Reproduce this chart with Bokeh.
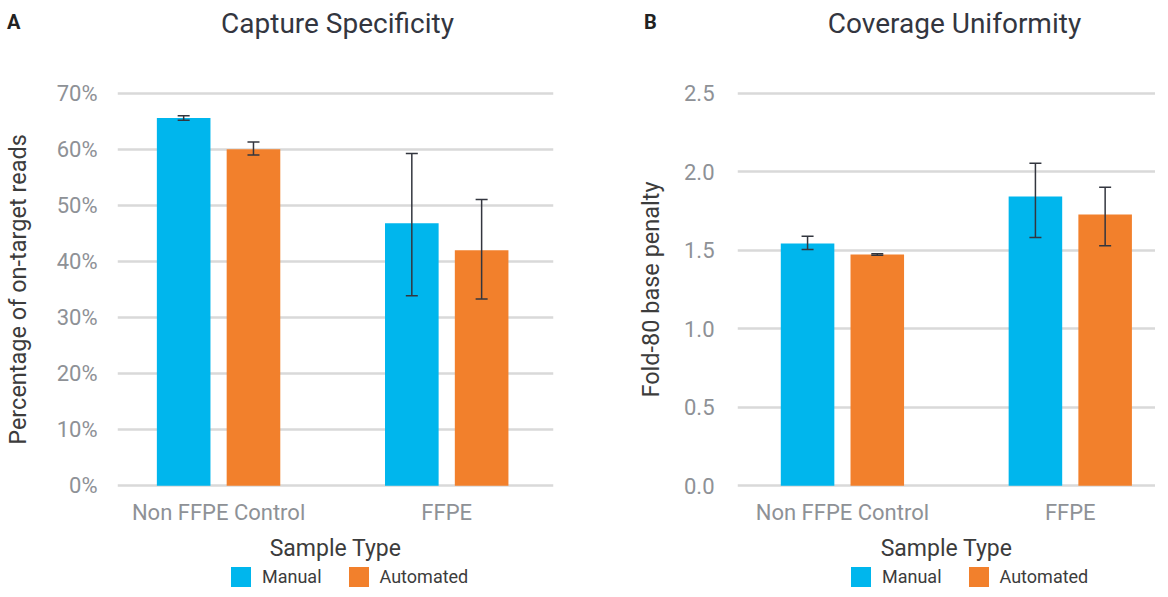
from bokeh.plotting import figure
from bokeh.layouts import row, column
from bokeh.models import (ColumnDataSource, Range1d, FixedTicker, PrintfTickFormatter,
                          Whisker, TeeHead, Legend, LegendItem, Div)
from bokeh.transform import dodge
from bokeh.embed import file_html
from bokeh.resources import INLINE

# ---------------- data ----------------
categories = ["Non FFPE Control", "FFPE"]
series = ["Manual", "Automated"]

# Panel A: Capture Specificity (% on-target reads)
spec_manual = [65.6, 46.8]
spec_manual_plus = [0.4, 12.45]
spec_manual_minus = [0.4, 12.9]
spec_auto = [60.0, 42.0]
spec_auto_plus = [1.3, 9.05]
spec_auto_minus = [1.0, 8.7]
spec_ticks = [0, 10, 20, 30, 40, 50, 60, 70]

# Panel B: Coverage Uniformity (Fold-80 base penalty)
unif_manual = [1.543, 1.842]
unif_manual_plus = [0.046, 0.212]
unif_manual_minus = [0.038, 0.261]
unif_auto = [1.473, 1.728]
unif_auto_plus = [0.005, 0.173]
unif_auto_minus = [0.005, 0.200]
unif_ticks = [0.0, 0.5, 1.0, 1.5, 2.0, 2.5]

BLUE = "#00B6ED"
ORANGE = "#F2802C"
TITLE_C = "#33363F"
TEXT = "#3C3C3C"
TICK = "#8E9196"
GRID = "#D9D9D9"
ERR = "#33363F"

BAR_W = 0.235
OFF = 0.153

HEAD_H = 46
TOP, FRAME_H, BOTTOM = 44, 398, 70
LEG_H = 25


def make_panel(letter, title, ylabel, manual, m_plus, m_minus, auto, a_plus, a_minus,
               ticks, fmt, y_range, x_range, frame_w, b_left, b_right, letter_x,
               title_x, tick_standoff, label_standoff, legend_x):
    width = b_left + frame_w + b_right
    xs = list(range(len(categories)))
    src = ColumnDataSource(dict(
        x=xs,
        manual=manual,
        manual_up=[v + e for v, e in zip(manual, m_plus)],
        manual_lo=[v - e for v, e in zip(manual, m_minus)],
        auto=auto,
        auto_up=[v + e for v, e in zip(auto, a_plus)],
        auto_lo=[v - e for v, e in zip(auto, a_minus)],
    ))

    # ---- header: panel letter + title
    html = (
        f'<div style="position:relative;width:{width}px;height:{HEAD_H}px;'
        f'font-family:Roboto,sans-serif;">'
        f'<span style="position:absolute;left:{letter_x}px;top:12px;font-size:20px;'
        f'line-height:20px;font-weight:bold;color:#222222;">{letter}</span>'
        f'<span style="position:absolute;left:{title_x}px;top:10px;font-size:28px;'
        f'line-height:28px;color:{TITLE_C};white-space:nowrap;'
        f'transform:translateX(-50%);">{title}</span>'
        '</div>'
    )
    head = Div(text=html, width=width, height=HEAD_H, margin=0)

    # ---- main chart
    p = figure(frame_width=frame_w, frame_height=FRAME_H, x_range=x_range, y_range=y_range,
               output_backend="svg", toolbar_location=None, title=None,
               min_border_left=b_left, min_border_right=b_right,
               min_border_top=TOP, min_border_bottom=BOTTOM)
    p.outline_line_color = None

    p.vbar(x=dodge("x", -OFF), top="manual", width=BAR_W, source=src,
           fill_color=BLUE, line_color=None)
    p.vbar(x=dodge("x", OFF), top="auto", width=BAR_W, source=src,
           fill_color=ORANGE, line_color=None)

    for base, up, lo in ((dodge("x", -OFF), "manual_up", "manual_lo"),
                         (dodge("x", OFF), "auto_up", "auto_lo")):
        w = Whisker(source=src, base=base, upper=up, lower=lo,
                    line_color=ERR, line_width=1.5, level="annotation",
                    upper_head=TeeHead(size=12, line_color=ERR, line_width=1.5),
                    lower_head=TeeHead(size=12, line_color=ERR, line_width=1.5))
        p.add_layout(w)

    p.xgrid.visible = False
    p.ygrid.grid_line_color = GRID
    p.ygrid.grid_line_width = 2.5
    p.ygrid.ticker = FixedTicker(ticks=ticks)

    ya = p.yaxis[0]
    ya.ticker = FixedTicker(ticks=ticks)
    ya.formatter = PrintfTickFormatter(format=fmt)
    ya.axis_line_color = None
    ya.major_tick_line_color = None
    ya.minor_tick_line_color = None
    ya.major_label_standoff = tick_standoff
    ya.major_label_text_font = "Roboto"
    ya.major_label_text_font_size = "22px"
    ya.major_label_text_color = TICK
    ya.axis_label = ylabel
    ya.axis_label_text_font = "Roboto"
    ya.axis_label_text_font_size = "23.5px"
    ya.axis_label_text_font_style = "normal"
    ya.axis_label_text_color = TEXT
    ya.axis_label_standoff = label_standoff

    xa = p.xaxis[0]
    xa.ticker = FixedTicker(ticks=xs)
    xa.major_label_overrides = {i: c for i, c in zip(xs, categories)}
    xa.axis_line_color = None
    xa.major_tick_line_color = None
    xa.minor_tick_line_color = None
    xa.major_label_standoff = 5
    xa.major_label_text_font = "Roboto"
    xa.major_label_text_font_size = "22px"
    xa.major_label_text_color = TICK
    xa.axis_label = "Sample Type"
    xa.axis_label_text_font = "Roboto"
    xa.axis_label_text_font_size = "23px"
    xa.axis_label_text_font_style = "normal"
    xa.axis_label_text_color = TEXT
    xa.axis_label_standoff = 7

    # ---- legend strip (its frame lines up with the chart frame)
    leg = figure(width=width, height=LEG_H, x_range=Range1d(0, 1), y_range=Range1d(0, 1),
                 output_backend="svg", toolbar_location=None, title=None,
                 x_axis_type=None, y_axis_type=None, min_border=0)
    leg.outline_line_color = None
    leg.xgrid.visible = False
    leg.ygrid.visible = False
    # zero-height swatches: they only lend their colours to the legend
    swatch = ColumnDataSource(dict(x=[0.5], top=[0.0]))
    g1 = leg.vbar(x="x", top="top", width=0.0, source=swatch, fill_color=BLUE, line_color=None)
    g2 = leg.vbar(x="x", top="top", width=0.0, source=swatch, fill_color=ORANGE, line_color=None)
    legend = Legend(items=[LegendItem(label=series[0], renderers=[g1]),
                           LegendItem(label=series[1], renderers=[g2])],
                    orientation="horizontal", location=(legend_x, 0),
                    glyph_width=25, glyph_height=25, label_standoff=9, spacing=24,
                    label_text_font="Roboto", label_text_font_size="18px",
                    label_text_color=TEXT, border_line_color=None,
                    background_fill_alpha=0, padding=0, margin=0)
    leg.add_layout(legend, "center")

    return column(head, p, leg, spacing=0)


c1 = make_panel("A", "Capture Specificity", "Percentage of on-target reads",
                spec_manual, spec_manual_plus, spec_manual_minus,
                spec_auto, spec_auto_plus, spec_auto_minus,
                spec_ticks, "%d%%", Range1d(-0.5, 70.5), Range1d(-0.443, 1.468),
                436, 114, 22, 7, 337.5, 14, 22, 111)

c2 = make_panel("B", "Coverage Uniformity", "Fold-80 base penalty",
                unif_manual, unif_manual_plus, unif_manual_minus,
                unif_auto, unif_auto_plus, unif_auto_minus,
                unif_ticks, "%.1f", Range1d(-0.018, 2.518), Range1d(-0.4605, 1.374),
                418, 162, 0, 69, 379.5, 17, 16, 111)

layout = row(c1, c2, spacing=0)
open("out.html", "w").write(file_html(layout, INLINE))
